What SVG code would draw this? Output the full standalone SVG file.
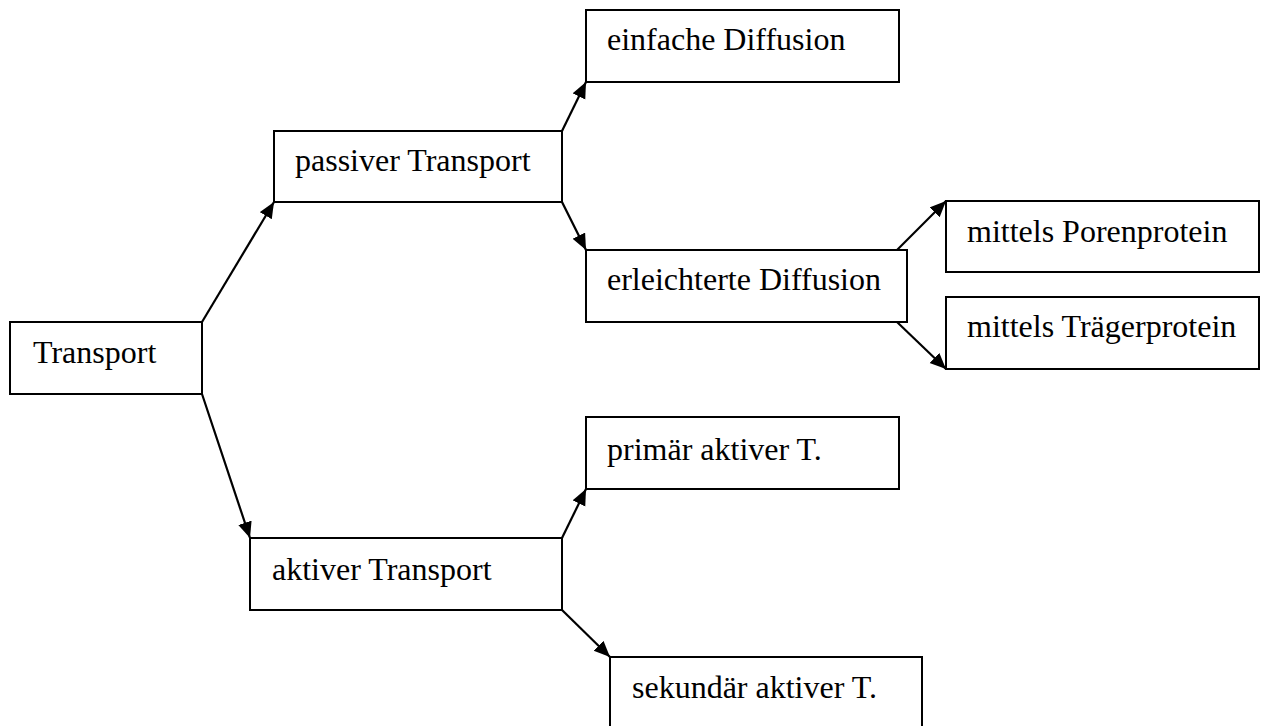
<svg xmlns="http://www.w3.org/2000/svg" width="1261" height="726" viewBox="0 0 1261 726">
<style>
.box{fill:#fff;stroke:#000;stroke-width:2}
.lbl{font-family:"Liberation Serif","Times New Roman",serif;font-size:32px;fill:#000}
.con{stroke:#000;stroke-width:2.2;fill:none;marker-end:url(#ah)}
</style>
<defs>
<marker id="ah" markerUnits="userSpaceOnUse" markerWidth="18" markerHeight="16" refX="16" refY="7" orient="auto">
<path d="M0,0 L16,7 L0,14 z" fill="#000"/>
</marker>
</defs>
<rect width="1261" height="726" fill="#fff"/>
<g id="connectors">
<line class="con" x1="202" y1="322" x2="274" y2="202"/>
<line class="con" x1="202" y1="394" x2="250" y2="538"/>
<line class="con" x1="562" y1="131" x2="586" y2="82"/>
<line class="con" x1="562" y1="202" x2="586" y2="250"/>
<line class="con" x1="897" y1="250" x2="946" y2="201"/>
<line class="con" x1="897" y1="322" x2="946" y2="369"/>
<line class="con" x1="562" y1="538" x2="586" y2="489"/>
<line class="con" x1="562" y1="610" x2="610" y2="657"/>
</g>
<g id="n-transport"><rect class="box" x="10" y="322" width="192" height="72"/><text class="lbl" x="33" y="363">Transport</text></g>
<g id="n-passiv"><rect class="box" x="274" y="131" width="288" height="71"/><text class="lbl" x="295" y="171">passiver Transport</text></g>
<g id="n-einfach"><rect class="box" x="586" y="10" width="313" height="72"/><text class="lbl" x="607" y="50">einfache Diffusion</text></g>
<g id="n-erleichtert"><rect class="box" x="586" y="250" width="321" height="72"/><text class="lbl" x="607" y="290">erleichterte Diffusion</text></g>
<g id="n-poren"><rect class="box" x="946" y="201" width="313" height="71"/><text class="lbl" x="967" y="242">mittels Porenprotein</text></g>
<g id="n-traeger"><rect class="box" x="946" y="297" width="313" height="72"/><text class="lbl" x="967" y="337">mittels Trägerprotein</text></g>
<g id="n-primaer"><rect class="box" x="586" y="417" width="313" height="72"/><text class="lbl" x="607" y="460">primär aktiver T.</text></g>
<g id="n-aktiv"><rect class="box" x="250" y="538" width="312" height="72"/><text class="lbl" x="272" y="580">aktiver Transport</text></g>
<g id="n-sekundaer"><rect class="box" x="610" y="657" width="312" height="72"/><text class="lbl" x="632" y="698">sekundär aktiver T.</text></g>
</svg>
